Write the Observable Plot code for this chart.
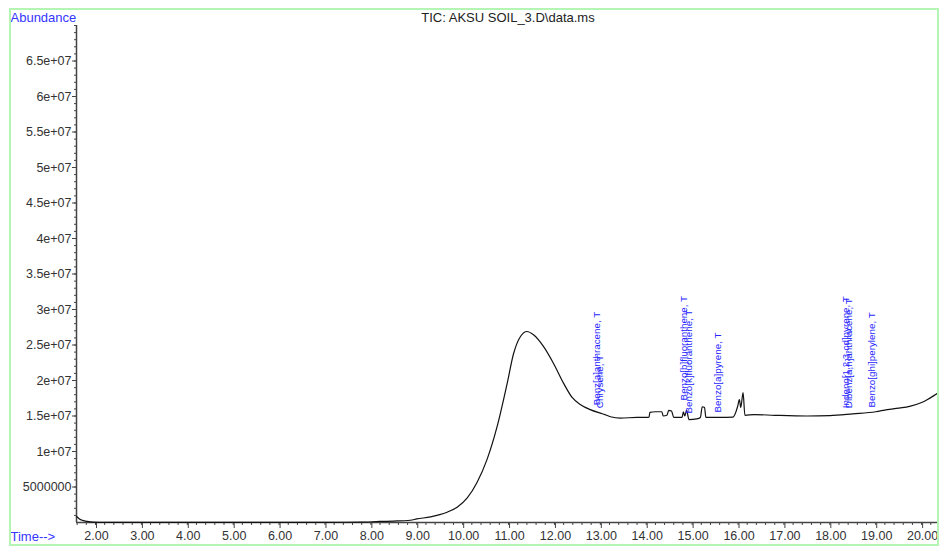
<!DOCTYPE html>
<html><head><meta charset="utf-8">
<script src="https://cdn.jsdelivr.net/npm/d3@7"></script>
<script src="https://cdn.jsdelivr.net/npm/@observablehq/plot@0.6"></script>
<style>
body{margin:0;background:#fff;}
#wrap{position:relative;width:939px;height:547px;overflow:hidden;}
#border{position:absolute;left:9px;top:8px;width:926px;height:534px;border:2px solid #b4f5b4;pointer-events:none;}
svg{display:block;}
</style></head><body><div id="wrap"><div id="border"></div></div>
<script>
const times = [1.59,1.65,1.72,1.82,1.95,2.2,3.0,5.0,7.0,7.8,8.2,8.5,8.86,9.0,9.3,9.5,9.66,9.88,10.10,10.31,10.53,10.75,10.97,11.11,11.26,11.40,11.55,11.76,11.98,12.20,12.38,12.57,12.78,13.0,13.1,13.22,13.44,13.8,14.0,14.06,14.08,14.2,14.34,14.37,14.45,14.49,14.55,14.6,14.78,14.81,14.84,14.88,14.93,15.1,15.18,15.22,15.27,15.3,15.6,15.89,15.99,16.03,16.06,16.11,16.15,16.35,16.8,17.5,18.0,18.5,19.0,19.25,19.5,19.76,20.0,20.12,20.25,20.39];
const abundance = [0.85e6,0.5e6,0.3e6,0.15e6,0.05e6,0.02e6,0.02e6,0.02e6,0.03e6,0.05e6,0.15e6,0.2e6,0.32e6,0.5e6,0.8e6,1.1e6,1.45e6,2.15e6,3.47e6,5.6e6,8.85e6,13.5e6,19.6e6,23.8e6,26.2e6,26.9e6,26.4e6,24.8e6,22.4e6,19.6e6,17.65e6,16.6e6,15.9e6,15.4e6,15.2e6,14.9e6,14.7e6,14.8e6,14.8e6,14.85e6,15.5e6,15.6e6,15.6e6,15.0e6,15.1e6,15.8e6,15.7e6,14.8e6,14.8e6,15.6e6,15.0e6,15.8e6,14.5e6,14.6e6,14.8e6,16.3e6,16.2e6,14.8e6,14.8e6,14.85e6,16.3e6,17.3e6,16.2e6,18.3e6,15.1e6,15.2e6,15.1e6,15.0e6,15.05e6,15.3e6,15.6e6,15.9e6,16.1e6,16.4e6,16.9e6,17.3e6,17.8e6,18.4e6];

const peakNames = ["Benz[a]anthracene, T","Chrysene, T","Benzo[b]fluoranthene, T","Benzo[k]fluoranthene, T","Benzo[a]pyrene, T","Indeno[1,2,3-cd]pyrene, T","Dibenz[a,h]anthracene, T","Benzo[ghi]perylene, T"];
const peakTimes = [12.93,13.0,14.82,14.92,15.57,18.34,18.41,18.92];
const peakLabelY = [16.5e6,16.1e6,17.2e6,15.35e6,15.5e6,16.1e6,16.1e6,16.2e6];

const xTicks = [2,3,4,5,6,7,8,9,10,11,12,13,14,15,16,17,18,19,20];
const yTicks = [5e6,1e7,1.5e7,2e7,2.5e7,3e7,3.5e7,4e7,4.5e7,5e7,5.5e7,6e7,6.5e7];
const xDomain = [1.586, 20.39];
const yDomain = [0, 7e7];

const title = "TIC: AKSU SOIL_3.D\\data.ms";
const yTitle = "Abundance";
const xTitle = "Time-->";

const xMinor = d3.range(16, 204, 2).map(d => d / 10);
const yMinor = d3.range(1, 71).map(d => d * 1e6);

const series = times.map((t, i) => ({t, a: abundance[i]}));
const peaks = peakNames.map((n, i) => ({n, t: peakTimes[i], y: peakLabelY[i]}));
const fmtY = d => d < 1e7 ? String(d) : d.toExponential().replace(/e\+(\d)$/, "e+0$1");

const chart = Plot.plot({
  width: 939, height: 547,
  marginLeft: 76, marginRight: 0, marginTop: 25, marginBottom: 25,
  style: {fontFamily: "'Liberation Sans', Arial, sans-serif", fontSize: "12px", background: "transparent", color: "#333"},
  x: {domain: xDomain, label: null},
  y: {domain: yDomain, label: null},
  marks: [
    Plot.axisY({ticks: yMinor, tickSize: 2, tickFormat: () => "", label: null, stroke: "#444"}),
    Plot.axisY({ticks: yTicks, tickSize: 4, tickPadding: 1, tickFormat: fmtY, label: null, fontSize: 12.5, fill: "#333", stroke: "#444"}),
    Plot.axisX({ticks: xMinor, tickSize: 3, tickFormat: () => "", label: null, stroke: "#444"}),
    Plot.axisX({ticks: xTicks, tickSize: 6, tickPadding: 3, tickFormat: d => d.toFixed(2), label: null, fontSize: 12.5, fill: "#333", stroke: "#444", dx: 1}),
    Plot.ruleX([xDomain[0]], {stroke: "#444", strokeWidth: 1.5}),
    Plot.ruleY([yDomain[0]], {stroke: "#444", strokeWidth: 1.5}),
    Plot.line(series, {x: "t", y: "a", stroke: "#111", strokeWidth: 1.2, curve: "monotone-x"}),
    Plot.text(peaks, {x: "t", y: "y", text: "n", rotate: -90, textAnchor: "start", lineAnchor: "middle", fill: "#2626ff", fontSize: 9.8}),
    Plot.text([yTitle], {frameAnchor: "top-left", dx: -66, dy: -4, textAnchor: "start", lineAnchor: "bottom", fill: "#3535ff", fontSize: 13}),
    Plot.text([title], {frameAnchor: "top", dy: -4, lineAnchor: "bottom", fill: "#222", fontSize: 13}),
    Plot.text([xTitle], {frameAnchor: "bottom-left", dx: -66, dy: 18, textAnchor: "start", lineAnchor: "bottom", fill: "#3535ff", fontSize: 13})
  ]
});
document.getElementById("wrap").prepend(chart);
</script></body></html>
